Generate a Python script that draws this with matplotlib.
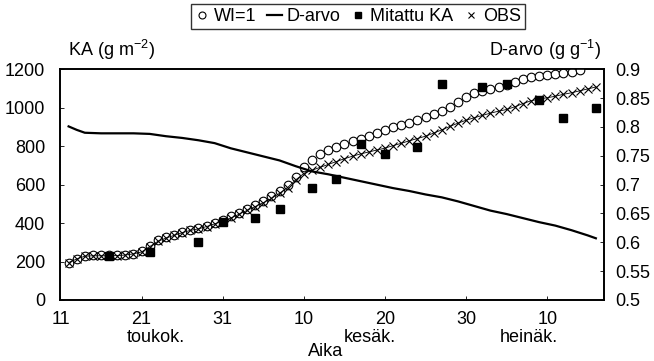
import numpy as np
import matplotlib
matplotlib.use("Agg")
import matplotlib.pyplot as plt
from matplotlib.lines import Line2D

plt.rcParams['font.family'] = ['Liberation Sans', 'DejaVu Sans']
plt.rcParams['mathtext.fontset'] = 'custom'
plt.rcParams['mathtext.rm'] = 'Liberation Sans'
plt.rcParams['mathtext.it'] = 'Liberation Sans:italic'

# day of year (11 May = 131)
wi_days = np.arange(132, 196)
wi_ka = [195, 215, 230, 232, 232, 232, 233, 236, 240, 253,
         282, 312, 327, 340, 355, 366, 375, 386, 402, 416,
         435, 455, 475, 496, 516, 540, 568, 598, 640, 690,
         728, 762, 780, 797, 810, 825, 840, 854, 870, 884,
         898, 910, 923, 937, 953, 970, 985, 1005, 1030, 1055,
         1075, 1086, 1096, 1107, 1118, 1133, 1148, 1160, 1167, 1172,
         1178, 1183, 1188, 1195]

obs_days = np.arange(132, 198)
obs_ka = [195, 213, 228, 230, 230, 230, 231, 234, 240, 250,
          278, 305, 322, 336, 350, 362, 370, 382, 396, 410,
          426, 446, 466, 486, 506, 528, 555, 585, 625, 658,
          675, 690, 705, 720, 735, 748, 760, 770, 780, 790,
          803, 815, 828, 840, 852, 868, 885, 903, 920, 935,
          948, 960, 972, 982, 991, 1005, 1022, 1036, 1046, 1052,
          1060, 1070, 1078, 1088, 1098, 1108]

meas_days = [137, 142, 148, 151, 155, 158, 162, 165, 168, 171, 175, 178, 183, 186, 190, 193, 197]
meas_ka = [228, 251, 303, 407, 424, 471, 580, 627, 814, 762, 797, 1125, 1108, 1122, 1042, 949, 999]

d_days = [132, 133, 134, 136, 138, 140, 142, 144, 146, 148, 150, 152, 154, 156, 158, 160, 162, 164,
          166, 168, 170, 172, 174, 176, 178, 180, 182, 184, 186, 188, 190, 192, 194, 196, 197]
d_arvo = [0.801, 0.795, 0.790, 0.789, 0.789, 0.789, 0.788, 0.784, 0.781, 0.777, 0.772, 0.763,
          0.756, 0.749, 0.742, 0.732, 0.723, 0.718, 0.712, 0.706, 0.700, 0.694, 0.689, 0.683,
          0.678, 0.671, 0.663, 0.655, 0.649, 0.642, 0.635, 0.629, 0.621, 0.612, 0.607]

tick_days = [131, 141, 151, 161, 171, 181, 191]
tick_labels = ['11', '21', '31', '10', '20', '30', '10']
months = ['toukok.', 'kesäk.', 'heinäk.']
month_pos = [142.7, 169.1, 188.7]

fs = 13
fig = plt.figure(figsize=(6.54, 3.61), dpi=100)
ax = fig.add_axes([0.0925, 0.169, 0.831, 0.639])
ax2 = ax.twinx()

ax.plot(wi_days, wi_ka, 'o', ms=6.2, mfc='white', mec='black', mew=0.8, zorder=3)
ax.plot(obs_days, obs_ka, '-x', color='black', lw=0.6, ms=6, mew=0.8, zorder=4)
ax.plot(meas_days, meas_ka, 's', ms=5.5, color='black', zorder=5)
ax2.plot(d_days, d_arvo, '-', color='black', lw=1.6)

ax.set_xlim(131, 198)
ax.set_ylim(0, 1200)
ax.set_yticks(range(0, 1201, 200))
ax2.set_ylim(0.5, 0.9)
r_ticks = [0.5, 0.55, 0.6, 0.65, 0.7, 0.75, 0.8, 0.85, 0.9]
ax2.set_yticks(r_ticks)
ax2.set_yticklabels(['%g' % t for t in r_ticks])
ax.set_xticks(tick_days)
ax.set_xticklabels(tick_labels)

for a in (ax, ax2):
    a.tick_params(direction='in', length=3, width=0.6, labelsize=fs)
    for s in a.spines.values():
        s.set_linewidth(1.2)
ax.tick_params(axis='y', pad=11)
ax2.tick_params(axis='y', pad=8)
ax.tick_params(axis='x', pad=8)

# month names under the day numbers
for m, p in zip(months, month_pos):
    ax.text(p, -0.162, m, transform=ax.get_xaxis_transform(), ha='center', va='center', fontsize=fs)
fig.text(326 / 654, 1 - 352 / 361, 'Aika', ha='center', va='center', fontsize=fs)

ax.text(0.014, 1.085, r'KA (g m$^{-2}$)', transform=ax.transAxes, ha='left', va='center', fontsize=fs)
ax.text(0.995, 1.085, r'D-arvo (g g$^{-1}$)', transform=ax.transAxes, ha='right', va='center', fontsize=fs)

handles = [
    Line2D([], [], marker='o', ls='none', ms=5, mfc='white', mec='black', mew=0.8),
    Line2D([], [], color='black', lw=1.6),
    Line2D([], [], marker='s', ls='none', ms=4.5, color='black'),
    Line2D([], [], marker='x', ls='none', ms=5, color='black', mew=0.8),
]
leg = fig.legend(handles, ['WI=1', 'D-arvo', 'Mitattu KA', 'OBS'], loc='center',
                 bbox_to_anchor=(358 / 654, 1 - 16.5 / 361), ncol=4, fontsize=fs,
                 handlelength=0.8, handletextpad=0.25, columnspacing=0.6,
                 borderpad=0.2, borderaxespad=0, fancybox=False, frameon=True)
leg.get_frame().set_edgecolor('black')
leg.get_frame().set_linewidth(1.0)

fig.savefig('out.png', dpi=100)
